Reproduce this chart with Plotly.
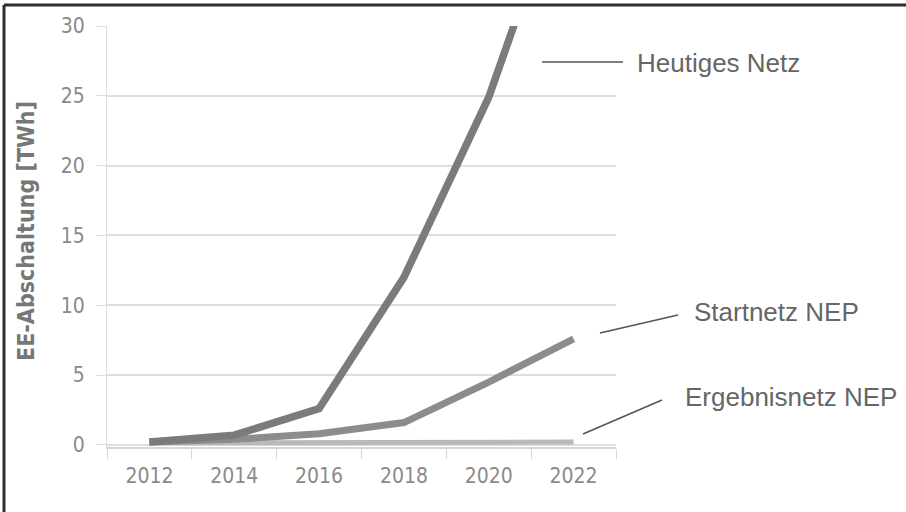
import plotly.graph_objects as go

years = ["2012", "2014", "2016", "2018", "2020", "2022"]
heutiges_netz = [0.2, 0.7, 2.6, 12.0, 24.9, 42.2]
startnetz_nep = [0.2, 0.4, 0.8, 1.6, 4.5, 7.6]
ergebnisnetz_nep = [0.15, 0.15, 0.15, 0.15, 0.15, 0.2]

series_names = ["Heutiges Netz", "Startnetz NEP", "Ergebnisnetz NEP"]
y_ticks = [0, 5, 10, 15, 20, 25, 30]

TICK_FONT = "DejaVu Sans Condensed, Roboto Condensed, DejaVu Sans, sans-serif"
LABEL_FONT = "Liberation Sans, Arial, sans-serif"

fig = go.Figure()
fig.add_trace(go.Scatter(x=years, y=ergebnisnetz_nep, mode="lines",
                         line=dict(color="#b9b9b9", width=5), name=series_names[2]))
fig.add_trace(go.Scatter(x=years, y=startnetz_nep, mode="lines",
                         line=dict(color="#8c8c8c", width=7), name=series_names[1]))
fig.add_trace(go.Scatter(x=years, y=heutiges_netz, mode="lines",
                         line=dict(color="#7b7b7b", width=7.5), name=series_names[0]))

W, H = 906, 512
L, R, T, B = 107, 616, 26, 447


def px(x):
    return (x - L) / (R - L)


def py(y):
    return (B - y) / (B - T)


shapes = []
annotations = []
# leader lines + labels
leaders = [
    ((542, 62), (623, 62), (635, 63), series_names[0]),
    ((600, 333), (678, 315), (692, 312), series_names[1]),
    ((583, 434), (662, 400), (683, 397), series_names[2]),
]
for (x0, y0), (x1, y1), (tx, ty), txt in leaders:
    shapes.append(dict(type="line", xref="paper", yref="paper",
                       x0=px(x0), y0=py(y0), x1=px(x1), y1=py(y1),
                       line=dict(color="#555555", width=1.6)))
    annotations.append(dict(x=px(tx), y=py(ty), xref="paper", yref="paper",
                            text=txt, showarrow=False, xanchor="left", yanchor="middle",
                            font=dict(family=LABEL_FONT, size=26, color="#666666")))

# y-axis title
annotations.append(dict(x=px(26), y=py(231), xref="paper", yref="paper",
                        text="<b>EE-Abschaltung [TWh]</b>", showarrow=False, textangle=-90,
                        xanchor="center", yanchor="middle",
                        font=dict(family=TICK_FONT, size=23, color="#777777")))

# frame of the figure (top and left edges)
shapes.append(dict(type="line", xref="paper", yref="paper",
                   x0=px(4), y0=py(5), x1=px(906), y1=py(5),
                   line=dict(color="#2e2e2e", width=3)))
shapes.append(dict(type="line", xref="paper", yref="paper",
                   x0=px(4), y0=py(5), x1=px(4), y1=py(512),
                   line=dict(color="#2e2e2e", width=3)))

fig.update_layout(
    width=W, height=H,
    margin=dict(l=L, r=W - R, t=T, b=H - B, pad=0),
    paper_bgcolor="white", plot_bgcolor="white",
    showlegend=False,
    shapes=shapes, annotations=annotations,
    xaxis=dict(type="category", range=[-0.5, 5.5], showgrid=False,
               tickson="boundaries", ticks="outside", ticklen=10, tickwidth=1.2,
               tickcolor="#d6d6d6", showline=True, linecolor="#d6d6d6", linewidth=1.5,
               tickfont=dict(family=TICK_FONT, size=21, color="#8a8a8a"),
               ticklabelstandoff=9, zeroline=False),
    yaxis=dict(range=[-0.15, 30], tickvals=y_ticks, showgrid=True, gridcolor="#dedede",
               gridwidth=1.5, ticks="outside", ticklen=10, tickcolor="#dedede",
               showline=True, linecolor="#dedede", linewidth=1.2, zeroline=False,
               tickfont=dict(family=TICK_FONT, size=21, color="#8a8a8a"),
               ticklabelstandoff=7),
)

fig.write_html("out.html", config={"displayModeBar": False},
               post_script="document.body.style.margin='0';")
